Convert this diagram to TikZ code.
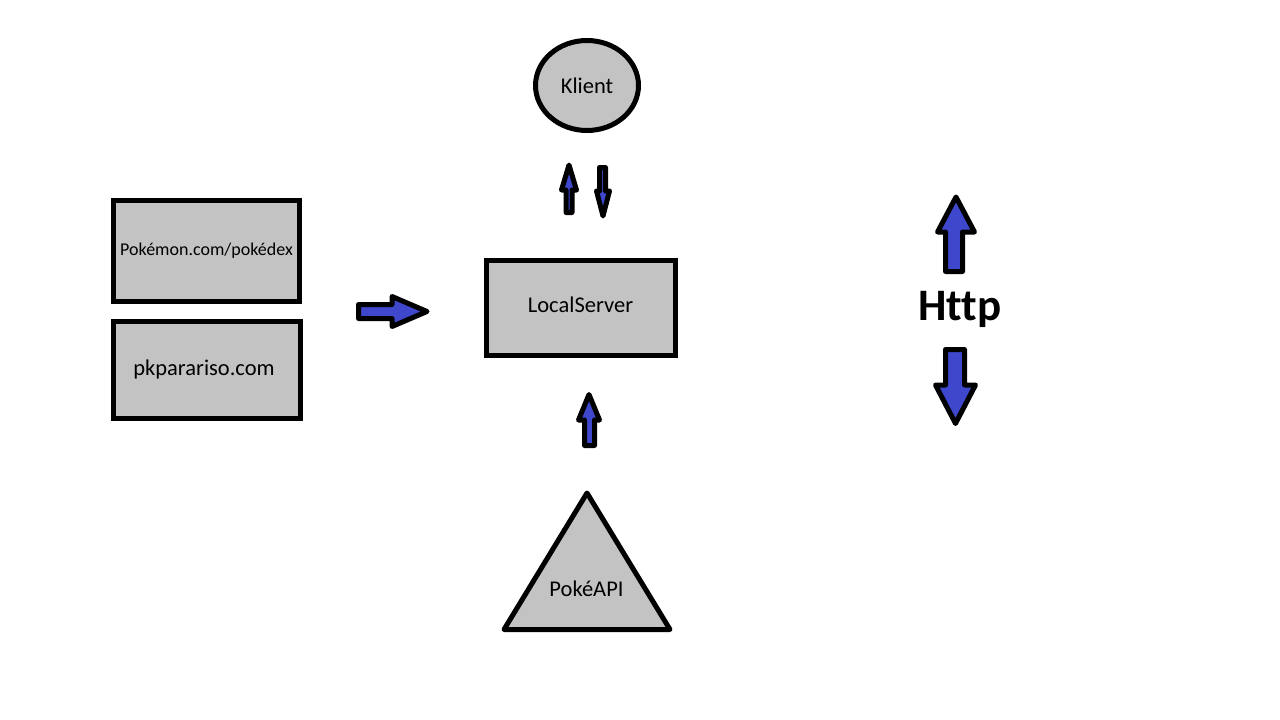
\documentclass[tikz,border=0pt]{standalone}
\usepackage{fontspec}
\setmainfont{Carlito}[Ligatures={NoCommon}]
\usetikzlibrary{shapes.geometric}
\definecolor{paintgray}{RGB}{195,195,195}
\definecolor{paintblue}{RGB}{63,72,204}
\tikzset{
  shapebox/.style={draw=black, fill=paintgray, line width=5pt, rectangle, inner sep=0pt, outer sep=0pt},
  blockarrow/.style={draw=black, fill=paintblue, line width=5pt, line join=round},
  lbl/.style={anchor=base, inner sep=0pt, font=\fontsize{22.5}{26}\selectfont},
}
\begin{document}
\begin{tikzpicture}[x=1pt,y=-1pt]
\useasboundingbox[fill=white] (0,0) rectangle (1280,720);

% shapes
\node[shapebox, ellipse, minimum width=103pt, minimum height=90pt] (klientshape) at (587,85.5) {};
\node[shapebox, minimum width=186pt, minimum height=101pt] (pokedexshape) at (206.5,251) {};
\node[shapebox, minimum width=187pt, minimum height=97pt] (pkshape) at (207,370) {};
\node[shapebox, minimum width=189pt, minimum height=95pt] (servershape) at (581,308) {};
\draw[draw=black, fill=paintgray, line width=5pt, line join=round]
  (587,493) -- (670,629.5) -- (504,629.5) -- cycle;

% texts
\node[lbl] (klient) at (587,93) {Klient};
\node[lbl, font=\fontsize{18}{21}\selectfont] (pokedex) at (206.5,255) {Pokémon.com/pokédex};
\node[lbl] (pk) at (204,375) {pkparariso.com};
\node[lbl] (server) at (580.5,312) {LocalServer};
\node[lbl] (api) at (586.5,596) {PokéAPI};
\node[anchor=base, inner sep=0pt, font=\fontsize{45}{50}\selectfont\bfseries] (http) at (960,320) {Http};

% block arrows
% small up arrow (server -> klient)
\draw[blockarrow] (569,165) -- (576.5,190) -- (572,190) -- (572,212.5) -- (566,212.5) -- (566,190) -- (561.5,190) -- cycle;
% small down arrow (klient -> server)
\draw[blockarrow] (603,216) -- (609.5,191) -- (605.5,191) -- (605.5,167.5) -- (599.5,167.5) -- (599.5,191) -- (596.5,191) -- cycle;
% right arrow (sources -> server)
\draw[blockarrow] (427,311.5) -- (392,296.5) -- (392,304.5) -- (358.5,304.5) -- (358.5,318.5) -- (392,318.5) -- (392,326.5) -- cycle;
% bottom up arrow (api -> server)
\draw[blockarrow] (589,394.5) -- (599.5,420) -- (594.5,420) -- (594.5,445.5) -- (584.5,445.5) -- (584.5,420) -- (578.5,420) -- cycle;
% Http up arrow
\draw[blockarrow] (956,197) -- (974.5,232) -- (962.5,232) -- (962.5,271.5) -- (945.5,271.5) -- (945.5,232) -- (937.5,232) -- cycle;
% Http down arrow
\draw[blockarrow] (955.5,423.5) -- (975.5,385) -- (964.5,385) -- (964.5,349.5) -- (945.5,349.5) -- (945.5,385) -- (935.5,385) -- cycle;
\end{tikzpicture}
\end{document}
